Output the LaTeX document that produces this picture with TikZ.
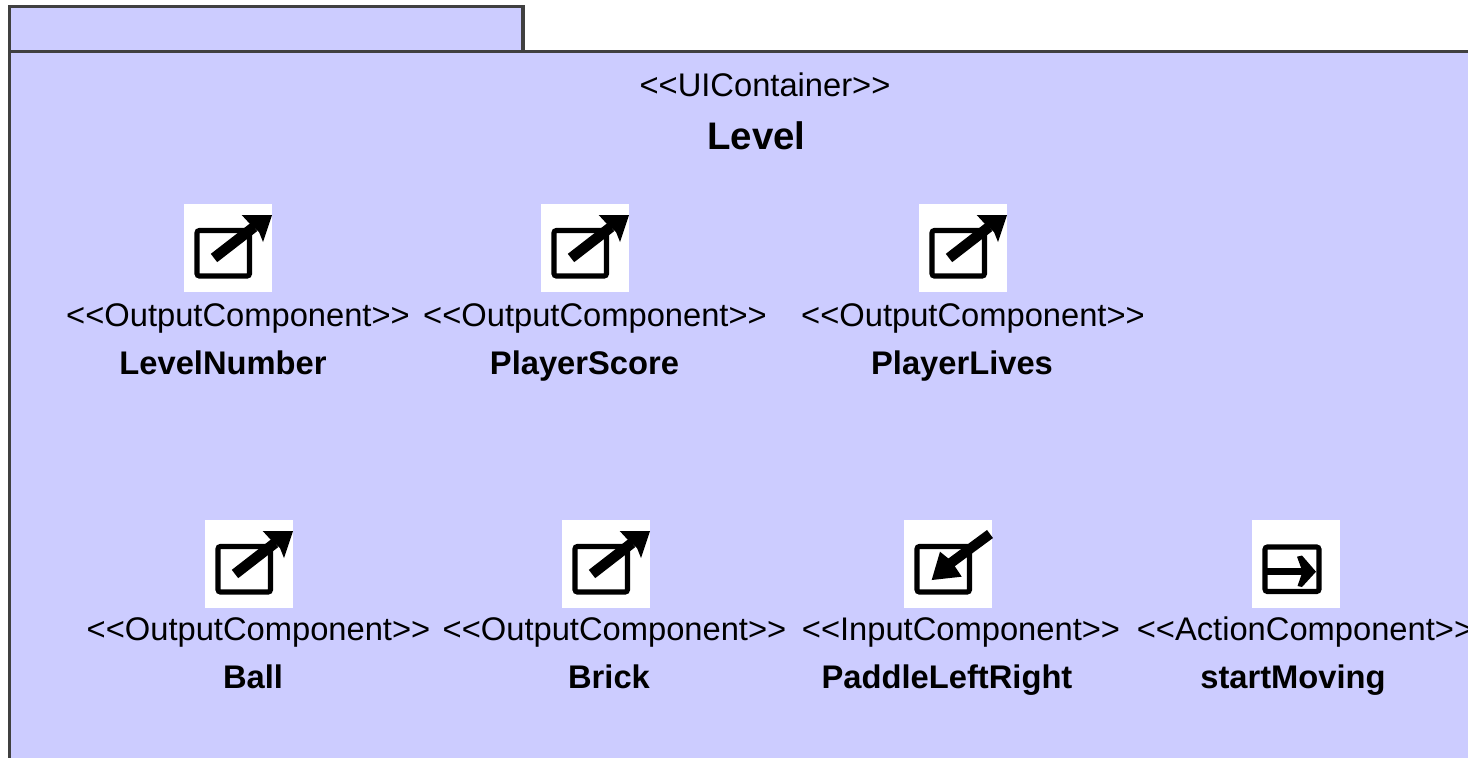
\documentclass[tikz,border=0pt]{standalone}
\usepackage{fontspec}
\setmainfont{Liberation Sans}
\definecolor{pkgfill}{HTML}{CCCCFF}
\definecolor{pkgline}{HTML}{404040}
\newcommand{\stereofont}{\fontsize{32.7}{36}\selectfont}
\newcommand{\namefont}{\fontsize{32.7}{38}\selectfont\bfseries}
\newcommand{\titlefont}{\fontsize{38.4}{42}\selectfont\bfseries}
\newcommand{\iconbox}{\draw[iconline,rounded corners=2.5pt] (13,26.5) rectangle (65.5,72);}
\newcommand{\outicon}{\iconbox
  \draw[iconline,line width=10.5pt] (30,54) -- (70,23);
  \fill (57.7,11) -- (88,11) -- (79,38) -- (75,28) -- (66,20) -- cycle;}
\newcommand{\inicon}{\iconbox
  \draw[iconline,line width=10pt] (86,14) -- (44,45);
  \fill (27.7,60) -- (36,31.7) -- (45,39) -- (50,45) -- (57.7,56.7) -- cycle;}
\newcommand{\acticon}{\draw[iconline,rounded corners=2.5pt] (13,27) rectangle (67,71.5);
  \draw[iconline,line width=6.5pt] (13,51.7) -- (56,51.7);
  \fill (45,36.7) -- (50,35.5) -- (64,51.7) -- (50,67) -- (45.5,66) -- (50.5,51.7) -- cycle;}
\tikzset{
  pkg/.style={draw=pkgline,fill=pkgfill,line width=3.5pt},
  iconbg/.style={fill=white,draw=none,inner sep=0pt,minimum size=88pt,anchor=north west},
  iconline/.style={draw=black,line width=5.2pt},
  stereo/.style={anchor=base,inner sep=0pt,font=\stereofont},
  cname/.style={anchor=base,inner sep=0pt,font=\namefont},
  title/.style={anchor=base,inner sep=0pt,font=\titlefont}
}
\begin{document}
\begin{tikzpicture}[x=1pt,y=-1pt]
\useasboundingbox (0,0) rectangle (1468,758);
\clip (0,0) rectangle (1468,758);
\fill[white] (0,0) rectangle (1468,758);
\draw[pkg] (9.5,6.5) rectangle (523,51.5);
\draw[pkg] (9.5,51.5) rectangle (1490,780);
\node[stereo] (uic) at (765,96) {<{}<UIContainer>{}>};
\node[title] (lvl) at (756.5,149) {Level};

\node[iconbg] (i1) at (184,204) {};
\node[iconbg] (i2) at (541,204) {};
\node[iconbg] (i3) at (919,204) {};
\node[iconbg] (i4) at (205,520) {};
\node[iconbg] (i5) at (562,520) {};
\node[iconbg] (i6) at (904,520) {};
\node[iconbg] (i7) at (1252,520) {};
\begin{scope}[shift={(184,204)}]\outicon\end{scope}
\begin{scope}[shift={(541,204)}]\outicon\end{scope}
\begin{scope}[shift={(919,204)}]\outicon\end{scope}
\begin{scope}[shift={(205,520)}]\outicon\end{scope}
\begin{scope}[shift={(562,520)}]\outicon\end{scope}
\begin{scope}[shift={(904,520)}]\inicon\end{scope}
\begin{scope}[shift={(1252,520)}]\acticon\end{scope}

\node[stereo] (s1) at (238,326) {<{}<OutputComponent>{}>};
\node[stereo] (s2) at (595,326) {<{}<OutputComponent>{}>};
\node[stereo] (s3) at (973,326) {<{}<OutputComponent>{}>};
\node[cname] (n1) at (223,374) {LevelNumber};
\node[cname] (n2) at (584.5,374) {PlayerScore};
\node[cname] (n3) at (962,374) {PlayerLives};
\node[stereo] (s4) at (258.5,640) {<{}<OutputComponent>{}>};
\node[stereo] (s5) at (614.5,640) {<{}<OutputComponent>{}>};
\node[stereo] (s6) at (961,640) {<{}<InputComponent>{}>};
\node[stereo] (s7) at (1305,640) {<{}<ActionComponent>{}>};
\node[cname] (n4) at (253,688) {Ball};
\node[cname] (n5) at (609,688) {Brick};
\node[cname] (n6) at (947,688) {PaddleLeftRight};
\node[cname] (n7) at (1293,688) {startMoving};
\end{tikzpicture}
\end{document}
